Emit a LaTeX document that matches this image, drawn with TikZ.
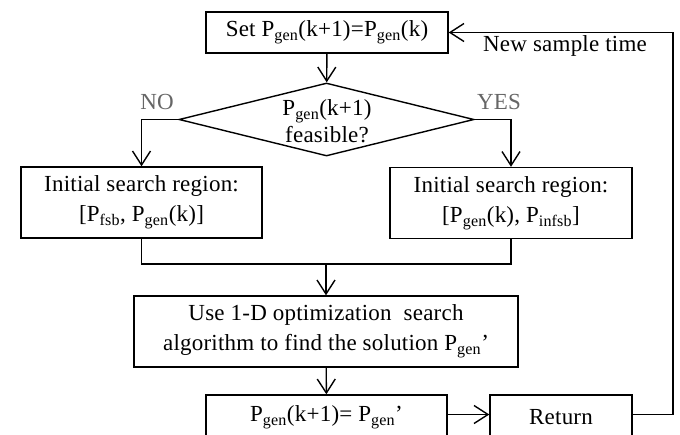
\documentclass[tikz,border=0pt]{standalone}
\usepackage{fontspec}
\setmainfont{Liberation Serif}[LetterSpace=1]
\usetikzlibrary{arrows.meta,shapes.geometric}
\tikzset{
  box/.style={draw, line width=1.4pt, inner sep=0pt, align=center, font=\fontsize{23}{30}\selectfont},
  txt/.style={inner sep=0pt, align=center, font=\fontsize{23}{27}\selectfont},
  lbl/.style={inner sep=0pt, font=\fontsize{23}{25}\selectfont},
  conn/.style={line width=1.4pt, -{Straight Barb[length=14pt,width=18pt,line width=1.4pt]}},
  plain/.style={line width=1.4pt}
}
\newcommand{\Pg}{P\textsubscript{gen}}
\begin{document}
\begin{tikzpicture}[x=1pt,y=-1pt]
\clip (0,0) rectangle (680,434);
\node[box, minimum width=242pt, minimum height=41pt] (set) at (327,32.5) {Set \Pg(k+1)=\Pg(k)};
\node[draw, diamond, line width=1.4pt, inner sep=0pt, minimum width=295pt, minimum height=73pt] (dec) at (326.5,119.5) {};
\node[txt] (dect) at (327,121) {\Pg(k+1)\\feasible?};
\node[box, minimum width=241pt, minimum height=71pt] (left) at (141.5,202.5) {Initial search region:\\{}[P\textsubscript{fsb}, \Pg(k)]};
\node[box, minimum width=242pt, minimum height=71pt] (right) at (511,203) {Initial search region:\\{}[\Pg(k), P\textsubscript{infsb}]};
\node[box, minimum width=384pt, minimum height=71pt] (opt) at (326,331.5) {Use 1-D optimization\ \ search\\algorithm to find the solution \Pg’};
\node[box, minimum width=241pt, minimum height=45pt] (upd) at (326.5,417.5) {\Pg(k+1)=\ \Pg’};
\node[box, minimum width=142pt, minimum height=45pt] (ret) at (561,417.5) {Return};
\node[lbl, text=black!60] (no) at (157,102) {NO};
\node[lbl, text=black!60] (yes) at (499,102) {YES};
\node[lbl] (nst) at (565,46) {New sample time};
\coordinate (merge) at (326,264);
\coordinate (fb) at (673,32.5);
\draw[conn] (set) -- (dec);
\draw[conn] (dec.west) -| (left.north);
\draw[conn] (dec.east) -| (right.north);
\draw[plain] (left.south) |- (merge) -| (right.south);
\draw[conn] (merge) -- (opt.north);
\draw[conn] (opt) -- (upd);
\draw[conn] ([yshift=3pt]upd.east) -- ([yshift=3pt]ret.west);
\draw[conn] ([yshift=3pt]ret.east) -| (fb) -- (set.east);
\end{tikzpicture}
\end{document}
